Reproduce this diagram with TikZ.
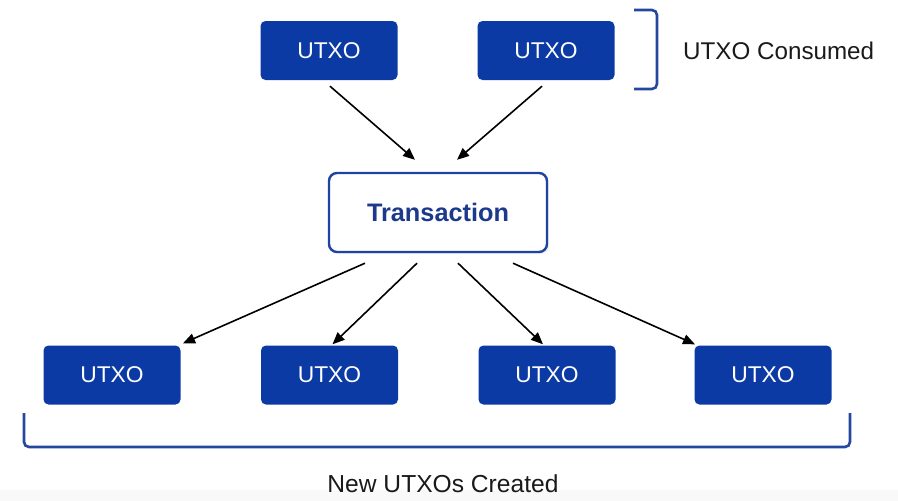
\documentclass[tikz,border=0pt]{standalone}
\usepackage{fontspec}
\setmainfont{Liberation Sans}
\usetikzlibrary{arrows.meta,calc,shadows}
\definecolor{boxblue}{HTML}{0B3AA4}
\definecolor{edgeblue}{HTML}{1E43A0}
\definecolor{txtblue}{HTML}{1B3A8C}
\definecolor{brblue}{HTML}{26479E}
\definecolor{ink}{HTML}{1A1A1A}
\tikzset{
  utxo/.style={rectangle, rounded corners=5pt, fill=boxblue, minimum width=137pt, minimum height=59pt, inner sep=0pt, text=white, font=\fontsize{22.8}{26}\selectfont},
  txbox/.style={rectangle, rounded corners=8pt, draw=edgeblue, line width=2.4pt, fill=white, minimum width=218pt, minimum height=79pt, inner sep=0pt, text=txtblue, font=\fontsize{25.3}{28}\selectfont\bfseries, drop shadow={opacity=0.12, shadow xshift=2pt, shadow yshift=-2pt}},
  arr/.style={-{Triangle[length=12pt,width=10pt]}, line width=1.6pt, black},
  brace/.style={draw=brblue, line width=2.6pt, rounded corners=5pt},
  lbl/.style={text=ink, inner sep=0pt}
}
\begin{document}
\begin{tikzpicture}[x=1pt,y=-1pt]
\useasboundingbox (0,0) rectangle (898,501);
\fill[black!2.5] (0,490) rectangle (898,501);
% top UTXOs
\node[utxo] (u1) at (329,50.5) {UTXO};
\node[utxo] (u2) at (546,50.5) {UTXO};
% transaction
\node[txbox] (t) at (438,212.5) {Transaction};
% bottom UTXOs
\node[utxo] (b1) at (112,375) {UTXO};
\node[utxo] (b2) at (329.5,375) {UTXO};
\node[utxo] (b3) at (547,375) {UTXO};
\node[utxo] (b4) at (763,375) {UTXO};
% arrows into transaction
\draw[arr] ($(u1.south)+(1,6)$) -- ($(t.north)+(-23,-12)$);
\draw[arr] ($(u2.south)+(-4,6)$) -- ($(t.north)+(19,-12)$);
% arrows out of transaction
\draw[arr] ($(t.south)+(-73,10)$) -- ($(b1.north)+(71,-2)$);
\draw[arr] ($(t.south)+(-21,10)$) -- ($(b2.north)+(3,-1)$);
\draw[arr] ($(t.south)+(20,10)$) -- ($(b3.north)+(-4,-1)$);
\draw[arr] ($(t.south)+(75,10)$) -- ($(b4.north)+(-68,-1)$);
% brackets
\coordinate (tb1) at (634,10);
\coordinate (tb2) at (657,10);
\coordinate (tb3) at (657,89);
\coordinate (tb4) at (634,89);
\draw[brace] (tb1) -- (tb2) -- (tb3) -- (tb4);
\coordinate (bb1) at (24,413);
\coordinate (bb2) at (24,447);
\coordinate (bb3) at (850,447);
\coordinate (bb4) at (850,413);
\draw[brace] (bb1) -- (bb2) -- (bb3) -- (bb4);
% labels
\node[lbl, anchor=west, font=\fontsize{24.2}{28}\selectfont] (lc) at (683,51) {UTXO Consumed};
\node[lbl, font=\fontsize{24.6}{28}\selectfont] (ln) at (443,484) {New UTXOs Created};
\end{tikzpicture}
\end{document}
